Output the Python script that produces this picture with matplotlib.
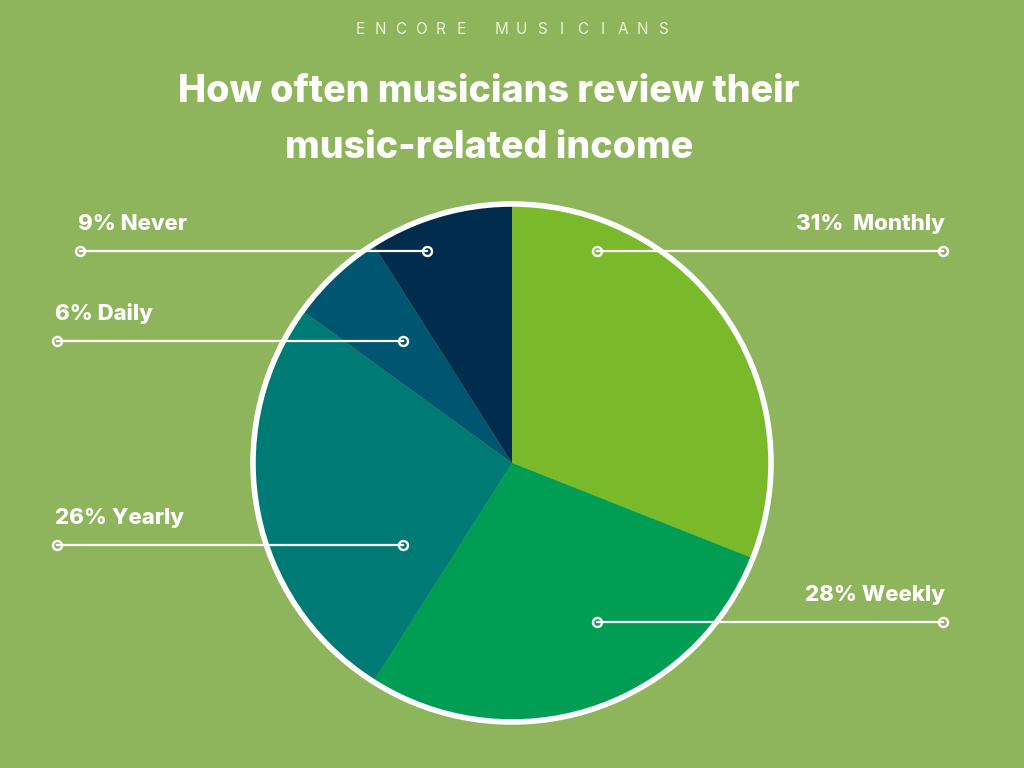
import matplotlib
matplotlib.use('Agg')
import matplotlib.pyplot as plt
from matplotlib.patches import Circle

# 데이터
labels = ['Monthly', 'Weekly', 'Yearly', 'Daily', 'Never']
shares = [31, 28, 26, 6, 9]
colors = ['#7AB929', '#009D55', '#007A74', '#005570', '#002C4D']
bg = '#8FB55C'

title = 'How often musicians review their\nmusic-related income'
brand = 'ENCORE MUSICIANS'

plt.rcParams['font.family'] = ['Inter', 'DejaVu Sans']

W, H = 1024, 768
fig = plt.figure(figsize=(W / 100, H / 100), dpi=100, facecolor=bg)
ax = fig.add_axes([0, 0, 1, 1])
ax.set_facecolor(bg)

cx, cy, r = 512, H - 463, 258

ax.pie(shares, colors=colors, startangle=90, counterclock=False,
       center=(cx, cy), radius=r, frame=True,
       wedgeprops=dict(linewidth=0))
ax.set_xlim(0, W)
ax.set_ylim(0, H)
ax.set_aspect('equal')
ax.axis('off')
ax.add_patch(Circle((cx, cy), r + 1, fill=False, edgecolor='white', linewidth=4, zorder=5))

# 라벨 + 지시선 (왼쪽/오른쪽)
callouts = {
    'Never':   dict(line=(80, 427), y=251, side='left'),
    'Daily':   dict(line=(57, 403), y=341, side='left'),
    'Yearly':  dict(line=(57, 403), y=545, side='left'),
    'Monthly': dict(line=(597, 943), y=251, side='right'),
    'Weekly':  dict(line=(597, 943), y=622, side='right'),
}
for name, val in zip(labels, shares):
    c = callouts[name]
    x0, x1 = c['line']
    yy = H - c['y']
    ax.plot([x0, x1], [yy, yy], color='white', linewidth=1.6, zorder=6,
            marker='o', markersize=6.5, markerfacecolor='none',
            markeredgecolor='white', markeredgewidth=1.7)
    sep = '  ' if name == 'Monthly' else ' '
    txt = f'{val}%{sep}{name}'
    if c['side'] == 'left':
        ax.text(x0 - 2, yy + 27, txt, color='white', fontsize=16, fontweight='heavy',
                ha='left', va='center', zorder=7)
    else:
        ax.text(x1 + 2, yy + 27, txt, color='white', fontsize=16, fontweight='heavy',
                ha='right', va='center', zorder=7)

# 제목
ax.text(489, H - 120, title, color='white', fontsize=27, fontweight='heavy',
        ha='center', va='center', linespacing=1.7)

# 브랜드 (자간 넓게)
step = 20.2
x = 360
for ch in brand:
    if ch != ' ':
        ax.text(x, H - 29, ch, color='#EAF5D6', fontsize=11, ha='center', va='center')
    x += step

plt.savefig('out.png', dpi=100, facecolor=bg)
